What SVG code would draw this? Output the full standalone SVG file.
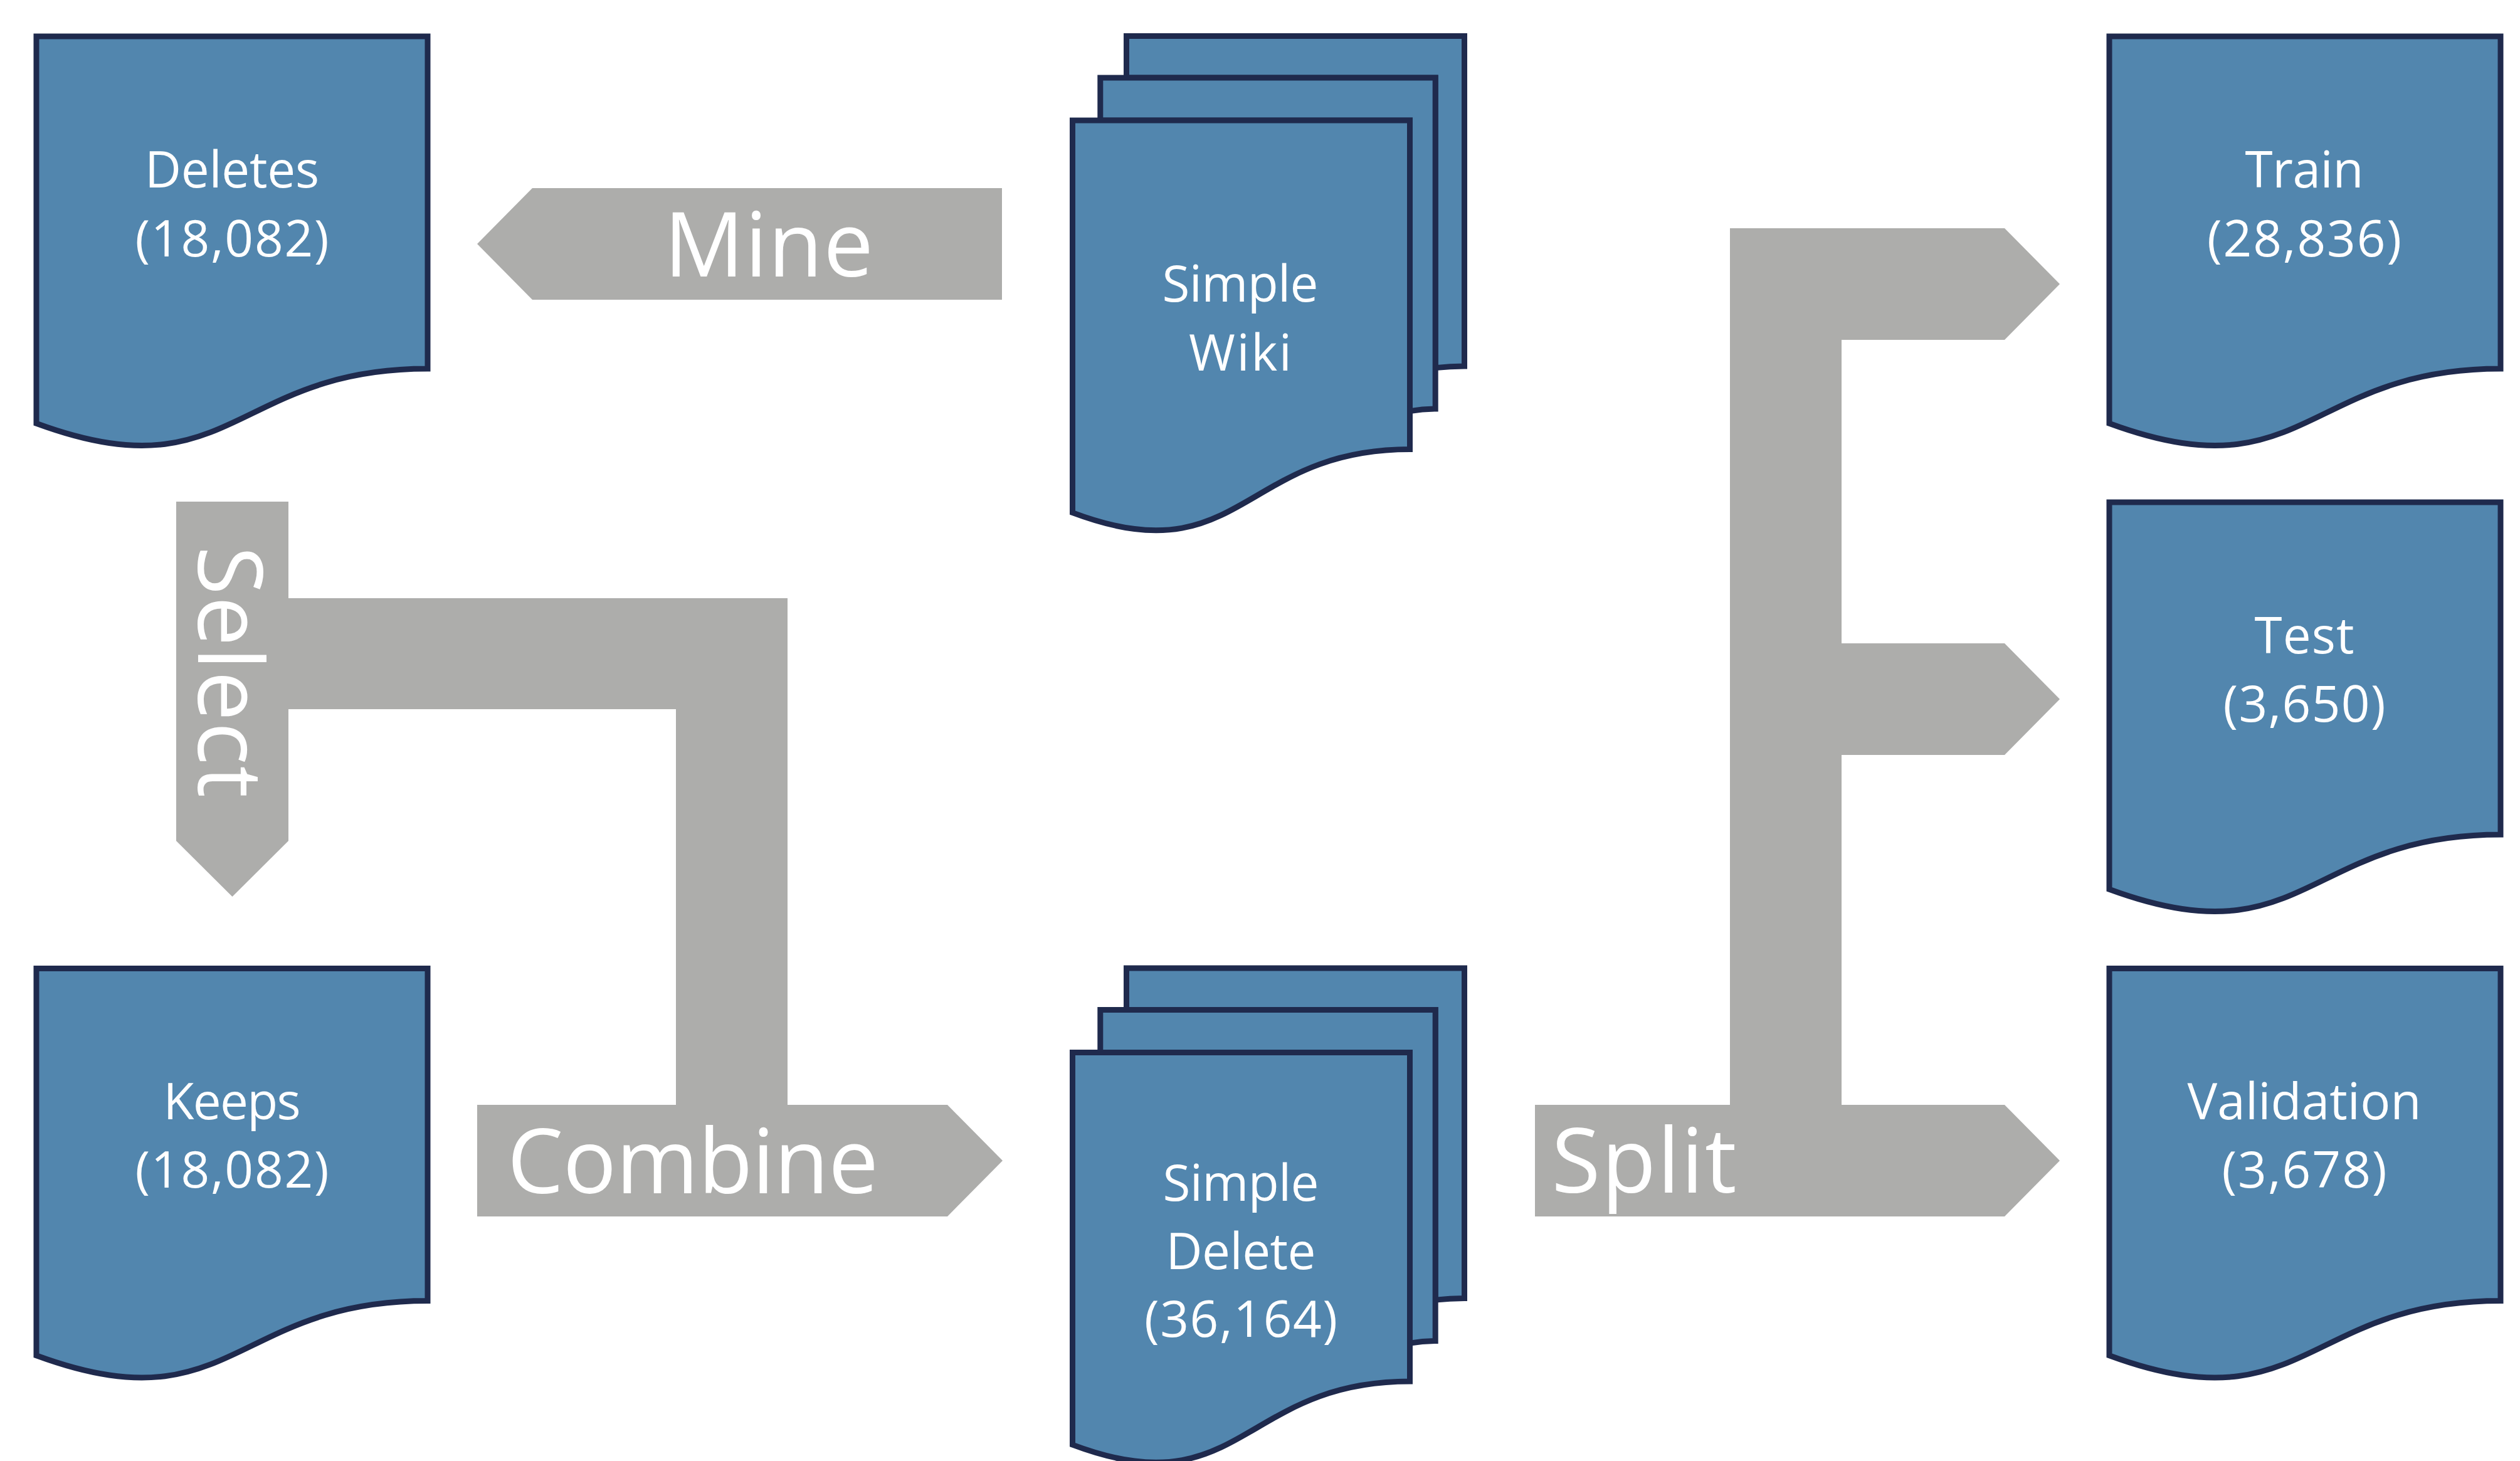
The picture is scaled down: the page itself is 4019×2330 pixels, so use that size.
<svg xmlns="http://www.w3.org/2000/svg" xmlns:xlink="http://www.w3.org/1999/xlink" width="4019" height="2330" viewBox="0 0 4019 2330">
  <style>
    .doc { fill: #5286AE; stroke: #1F2A4D; stroke-width: 9; stroke-linejoin: miter; }
    .flow { fill: #ADADAB; stroke: none; }
    .lbl { font-family: "Open Sans", Lato, "Liberation Sans", sans-serif; fill: #FFFFFF; text-anchor: middle; }
    .small { font-size: 80px; }
    .big { font-size: 142px; }
  </style>
  <defs>
    <!-- single document sheet, 624 x 661 -->
    <path id="docShape" class="doc" d="M0 0 H624 V530.1 C312 530.1 312 732 0 617.3 Z"/>
    <!-- stacked documents, 625 x 790 -->
    <g id="multiDoc">
      <path class="doc" d="M86 66.4 V0 H625 V526.4 C601.9 526.4 578.7 529.1 578.7 529.1 V66.4 Z"/>
      <path class="doc" d="M44.3 134.4 V66.4 H578.7 V594.4 C558.4 594.4 538 598.1 538 598.1 V134.4 Z"/>
      <path class="doc" d="M0 760.1 C269 861 269 659.1 538 659.1 V134.4 H0 Z"/>
    </g>
  </defs>

  <rect width="4019" height="2330" fill="#FFFFFF"/>

  <!-- process arrows -->
  <g id="connectors">
    <g id="mine">
      <polygon class="flow" points="761,389 849,300 1598,300 1598,478 849,478"/>
      <text class="lbl big" x="1226" y="441" textLength="334">Mine</text>
    </g>
    <g id="select">
      <polygon class="flow" points="281,800 460,800 460,1341 370.5,1430 281,1341"/>
      <polygon class="flow" points="455,954 1256,954 1256,1770 1078,1770 1078,1131 455,1131"/>
      <text class="lbl big" transform="translate(316,1071.5) rotate(90)" x="0" y="0" textLength="401">Select</text>
    </g>
    <g id="combine">
      <polygon class="flow" points="761,1762 1511,1762 1599,1851 1511,1940 761,1940"/>
      <text class="lbl big" x="1105" y="1903" textLength="592">Combine</text>
    </g>
    <g id="split">
      <path class="flow" d="M2759 364 H3197 L3285 453 L3197 542 H2937 V1026 H3197 L3285 1115 L3197 1204 H2937 V1762 H3197 L3285 1851 L3197 1940 H2448 V1762 H2759 Z"/>
      <text class="lbl big" x="2622" y="1902" textLength="295">Split</text>
    </g>
  </g>

  <!-- data sets -->
  <g id="simple-wiki">
    <use xlink:href="#multiDoc" transform="translate(1710.5,57.5)"/>
    <text class="lbl small" x="1978" y="481" textLength="249">Simple</text>
    <text class="lbl small" x="1978" y="591" textLength="164">Wiki</text>
  </g>
  <g id="deletes">
    <use xlink:href="#docShape" transform="translate(58,58)"/>
    <text class="lbl small" x="370" y="299" textLength="278">Deletes</text>
    <text class="lbl small" x="370" y="409" textLength="309">(18,082)</text>
  </g>
  <g id="keeps">
    <use xlink:href="#docShape" transform="translate(58,1544.5)"/>
    <text class="lbl small" x="370" y="1785" textLength="219">Keeps</text>
    <text class="lbl small" x="370" y="1894" textLength="309">(18,082)</text>
  </g>
  <g id="simple-delete">
    <use xlink:href="#multiDoc" transform="translate(1710.5,1544)"/>
    <text class="lbl small" x="1979" y="1915" textLength="249">Simple</text>
    <text class="lbl small" x="1979" y="2023.5" textLength="239">Delete</text>
    <text class="lbl small" x="1979" y="2132" textLength="308">(36,164)</text>
  </g>
  <g id="train">
    <use xlink:href="#docShape" transform="translate(3364,58)"/>
    <text class="lbl small" x="3675" y="299" textLength="189">Train</text>
    <text class="lbl small" x="3675" y="409" textLength="310">(28,836)</text>
  </g>
  <g id="test">
    <use xlink:href="#docShape" transform="translate(3364,801)"/>
    <text class="lbl small" x="3675" y="1041.5" textLength="159">Test</text>
    <text class="lbl small" x="3675" y="1151" textLength="259">(3,650)</text>
  </g>
  <g id="validation">
    <use xlink:href="#docShape" transform="translate(3364,1544.5)"/>
    <text class="lbl small" x="3675" y="1785" textLength="373">Validation</text>
    <text class="lbl small" x="3675" y="1894" textLength="263">(3,678)</text>
  </g>
</svg>
